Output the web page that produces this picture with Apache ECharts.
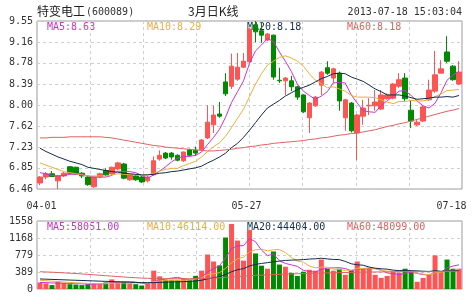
<!DOCTYPE html>
<html>
<head>
<meta charset="utf-8">
<script src="https://cdn.jsdelivr.net/npm/echarts@6/dist/echarts.min.js"></script>
<style>
html, body { margin: 0; padding: 0; background: #fff; }
#chart { width: 474px; height: 304px; }
</style>
</head>
<body>
<div id="chart"></div>
<script>
// 交易日
const dates = [
  '04-01','04-02','04-03','04-08','04-09','04-10','04-11','04-12','04-15','04-16',
  '04-17','04-18','04-19','04-22','04-23','04-24','04-25','04-26','05-02','05-03',
  '05-06','05-07','05-08','05-09','05-10','05-13','05-14','05-15','05-16','05-17',
  '05-20','05-21','05-22','05-23','05-24','05-27','05-28','05-29','05-30','05-31',
  '06-03','06-04','06-05','06-06','06-07','06-13','06-14','06-17','06-18','06-19',
  '06-20','06-21','06-24','06-25','06-26','06-27','06-28','07-01','07-02','07-03',
  '07-04','07-05','07-08','07-09','07-10','07-11','07-12','07-15','07-16','07-17',
  '07-18'
]
// [开, 收, 低, 高]
const candles = [
  [6.57,6.68,6.53,6.70],[6.68,6.74,6.64,6.77],[6.74,6.69,6.68,6.79],[6.61,6.70,6.46,6.72],
  [6.70,6.75,6.68,6.77],[6.87,6.75,6.74,6.88],[6.86,6.74,6.72,6.87],[6.75,6.70,6.66,6.77],
  [6.68,6.54,6.52,6.70],[6.50,6.68,6.48,6.69],[6.68,6.74,6.66,6.76],[6.80,6.72,6.70,6.84],
  [6.74,6.86,6.72,6.87],[6.83,6.94,6.81,6.96],[6.92,6.66,6.64,6.94],[6.63,6.72,6.61,6.74],
  [6.70,6.63,6.61,6.72],[6.68,6.59,6.57,6.70],[6.61,6.68,6.58,6.70],[6.72,6.98,6.70,7.06],
  [7.01,7.08,6.98,7.17],[7.12,7.03,7.01,7.14],[7.12,7.05,7.00,7.14],[7.08,6.99,6.97,7.10],
  [6.98,7.14,6.96,7.15],[7.18,7.08,7.06,7.20],[7.17,7.12,7.07,7.24],[7.18,7.36,7.16,7.38],
  [7.40,7.69,7.38,8.00],[7.64,7.82,7.49,7.99],[7.84,7.80,7.77,8.06],[8.43,8.21,8.17,8.59],
  [8.35,8.72,8.30,8.95],[8.48,8.70,8.45,8.96],[8.70,8.81,8.69,8.96],[8.80,9.40,8.78,9.42],
  [9.48,9.35,9.16,9.55],[9.37,9.29,9.15,9.53],[9.20,9.31,9.18,9.33],[9.29,8.52,8.47,9.30],
  [8.46,8.45,8.41,8.69],[8.45,8.50,8.19,8.52],[8.45,8.34,8.26,8.54],[8.34,8.15,8.10,8.36],
  [8.19,7.88,7.86,8.20],[7.77,8.04,7.49,8.06],[7.99,8.15,7.97,8.17],[8.37,8.61,8.19,8.63],
  [8.69,8.59,8.56,8.81],[8.50,8.67,8.41,8.69],[8.59,8.08,7.90,8.62],[7.77,8.10,7.53,8.12],
  [8.04,7.53,7.50,8.06],[7.49,7.82,6.99,7.84],[7.80,7.95,7.64,8.10],[7.99,8.00,7.82,8.13],
  [7.99,8.06,7.90,8.28],[7.93,8.19,7.91,8.28],[8.12,8.19,8.10,8.22],[8.13,8.39,8.11,8.41],
  [8.35,8.47,8.32,8.59],[8.50,8.12,8.08,8.59],[7.91,7.71,7.58,8.08],[7.64,7.69,7.62,7.73],
  [7.71,7.97,7.69,7.99],[8.10,8.28,8.08,8.47],[8.26,8.56,8.23,9.00],[8.59,8.67,8.59,8.83],
  [8.98,8.81,8.78,9.27],[8.72,8.47,8.45,8.74],[8.39,8.61,8.37,8.81]
]
const ma5 = [
  6.76,6.74,6.71,6.70,6.71,6.73,6.73,6.73,6.70,6.68,6.68,6.68,6.71,6.79,6.78,6.78,6.76,6.71,
  6.66,6.72,6.79,6.87,6.96,7.03,7.06,7.06,7.08,7.14,7.28,7.41,7.56,7.78,8.05,8.25,8.45,8.77,
  9.00,9.11,9.23,9.17,8.98,8.81,8.62,8.39,8.26,8.18,8.11,8.17,8.25,8.41,8.42,8.41,8.19,8.04,
  7.90,7.88,7.87,8.00,8.08,8.17,8.26,8.27,8.18,8.08,7.99,7.95,8.04,8.23,8.46,8.56,8.62
]
const ma10 = [
  6.94,6.90,6.86,6.82,6.78,6.76,6.74,6.72,6.70,6.70,6.70,6.70,6.72,6.74,6.73,6.73,6.72,6.71,
  6.72,6.75,6.79,6.82,6.84,6.84,6.89,6.93,6.97,7.05,7.15,7.24,7.31,7.43,7.59,7.76,7.93,8.16,
  8.39,8.58,8.74,8.81,8.88,8.91,8.87,8.81,8.72,8.58,8.46,8.40,8.32,8.34,8.30,8.26,8.18,8.15,
  8.15,8.15,8.14,8.10,8.06,8.03,8.07,8.07,8.09,8.08,8.08,8.11,8.16,8.21,8.27,8.28,8.29
]
const ma20 = [
  7.21,7.15,7.10,7.05,7.01,6.97,6.94,6.91,6.86,6.84,6.82,6.80,6.78,6.77,6.75,6.74,6.73,6.72,
  6.72,6.73,6.75,6.76,6.78,6.79,6.81,6.83,6.85,6.88,6.94,6.99,7.05,7.12,7.22,7.30,7.41,7.54,
  7.68,7.82,7.95,8.02,8.09,8.17,8.23,8.29,8.33,8.37,8.43,8.49,8.53,8.58,8.59,8.58,8.52,8.48,
  8.44,8.37,8.30,8.25,8.19,8.19,8.19,8.17,8.14,8.11,8.12,8.13,8.15,8.15,8.16,8.15,8.18
]
const ma60 = [
  7.40,7.40,7.41,7.41,7.41,7.42,7.42,7.42,7.42,7.42,7.42,7.41,7.40,7.38,7.36,7.34,7.32,7.30,
  7.28,7.26,7.25,7.23,7.22,7.21,7.20,7.19,7.18,7.17,7.16,7.16,7.17,7.18,7.19,7.21,7.22,7.24,
  7.25,7.27,7.28,7.30,7.31,7.32,7.33,7.34,7.35,7.37,7.38,7.40,7.41,7.43,7.45,7.46,7.48,7.49,
  7.51,7.53,7.55,7.58,7.61,7.63,7.66,7.68,7.71,7.74,7.77,7.80,7.83,7.86,7.89,7.91,7.94
]
// 成交量
const volumes = [
  150,130,90,160,140,110,100,90,110,130,120,150,220,170,160,130,110,80,120,420,
  290,210,210,210,240,200,300,420,790,630,540,1180,1490,1110,650,1350,815,535,465,860,
  560,510,370,300,395,440,420,675,465,420,465,325,420,630,465,490,325,255,300,395,
  370,465,395,165,255,325,770,395,675,465,465
]
const volMa5 = [
  150,145,138,135,134,126,120,120,110,108,110,120,146,158,164,166,158,130,120,172,
  204,226,250,268,232,214,232,274,390,468,536,712,926,990,994,1156,1083,892,763,805,
  647,586,553,520,427,403,385,446,479,484,489,470,419,452,461,466,466,433,367,353,
  329,357,385,358,330,321,382,382,484,526,554
]
const volMa10 = [
  200,190,180,170,160,150,142,135,128,121,118,120,133,134,136,138,139,138,139,168,
  185,192,190,194,202,209,229,262,329,350,375,472,600,690,731,846,898,909,877,900,
  902,835,723,642,616,525,486,500,500,456,446,428,433,466,473,478,468,426,410,407,
  398,412,409,363,342,325,370,384,421,428,438
]
const volMa20 = [
  230,225,220,215,210,205,200,195,190,185,180,175,170,165,160,155,150,147,145,145,
  152,156,162,164,169,174,184,200,234,259,280,332,395,442,467,528,564,586,603,625,
  639,654,662,666,674,686,692,705,689,678,674,632,578,554,545,502,477,463,455,432,
  422,420,421,415,408,402,419,405,416,418,418
]
const volMa60 = [
  395,390,385,378,370,362,355,345,335,325,315,305,295,285,275,265,258,250,245,240,
  238,236,235,235,235,236,238,240,245,252,258,266,276,286,294,304,312,318,324,330,
  336,341,345,349,353,357,361,365,369,372,375,378,380,383,386,388,390,391,392,393,
  394,396,397,397,397,398,400,401,403,404,405
]
const priceTicks = [6.46, 6.85, 7.23, 7.62, 8.00, 8.39, 8.78, 9.16, 9.55]
const labelIndex = [0, 35, 70]
const maTexts = ['MA5:8.63', 'MA10:8.29', 'MA20:8.18', 'MA60:8.18']
const volMaTexts = ['MA5:58051.00', 'MA10:46114.00', 'MA20:44404.00', 'MA60:48099.00']

const upColor = '#ff5454'
const downColor = '#008a00'
const maColors = ['#cc33cc', '#e8b03c', '#132b4b', '#e06060']
const mono = '"DejaVu Sans Mono", "Liberation Mono", monospace'
const cjk = '"Noto Sans CJK SC", sans-serif'
const gridLine = { show: true, lineStyle: { color: '#cfcfcf', type: [3, 3], width: 1 } }

let chart = echarts.init(document.getElementById('chart'))

function maLine (name, data, color, xi, yi) {
  return {
    name: name, type: 'line', data: data, xAxisIndex: xi, yAxisIndex: yi,
    showSymbol: false, symbol: 'none', silent: true,
    lineStyle: { color: color, width: 1 }
  }
}

let texts = []
texts.push({ type: 'text', x: 37, y: 11, style: { text: '特变电工', font: '12px ' + cjk, fill: '#222', verticalAlign: 'middle' } })
texts.push({ type: 'text', x: 86, y: 12, style: { text: '(600089)', font: '10px ' + mono, fill: '#333', verticalAlign: 'middle' } })
texts.push({ type: 'text', x: 188, y: 11, style: { text: '3月日K线', font: '12px ' + cjk, fill: '#222', verticalAlign: 'middle' } })
texts.push({ type: 'text', x: 462, y: 12, style: { text: '2013-07-18 15:03:04', font: '10px ' + mono, fill: '#333', align: 'right', verticalAlign: 'middle' } })
maTexts.forEach((t, i) => {
  texts.push({ type: 'text', x: 47 + i * 100, y: 27, style: { text: t, font: '10px ' + mono, fill: maColors[i], verticalAlign: 'middle' } })
})
volMaTexts.forEach((t, i) => {
  texts.push({ type: 'text', x: 47 + i * 100, y: 227, style: { text: t, font: '10px ' + mono, fill: maColors[i], verticalAlign: 'middle' } })
})

const option = {
  animation: false,
  grid: [
    { left: 37, top: 21, width: 425, height: 168, show: true, borderColor: '#9a9a9a', borderWidth: 1 },
    { left: 37, top: 221, width: 425, height: 68, show: true, borderColor: '#9a9a9a', borderWidth: 1 }
  ],
  xAxis: [
    {
      type: 'category', gridIndex: 0, data: dates, boundaryGap: true,
      axisLine: { show: false }, axisTick: { show: false }, splitLine: { show: false },
      axisLabel: {
        interval: (i) => labelIndex.includes(i),
        margin: 12, color: '#333', fontSize: 10, fontFamily: mono,
        formatter: (v, i) => i === 35 ? '{b|' + v + '}' : (i === 70 ? '{c|' + v + '}' : '{a|' + v + '}'),
        rich: {
          a: { fontSize: 10, fontFamily: mono, color: '#333', padding: [0, 0, 0, 3] },
          b: { fontSize: 10, fontFamily: mono, color: '#333', padding: [0, 6, 0, 0] },
          c: { fontSize: 10, fontFamily: mono, color: '#333', padding: [0, 15, 0, 0] }
        }
      }
    },
    {
      type: 'category', gridIndex: 1, data: dates, boundaryGap: true,
      axisLine: { show: false }, axisTick: { show: false }, axisLabel: { show: false }, splitLine: { show: false }
    },
    {
      type: 'value', gridIndex: 0, min: 0, max: 8, interval: 1,
      axisLine: { show: false }, axisTick: { show: false }, axisLabel: { show: false }, splitLine: gridLine
    },
    {
      type: 'value', gridIndex: 1, min: 0, max: 8, interval: 1,
      axisLine: { show: false }, axisTick: { show: false }, axisLabel: { show: false }, splitLine: gridLine
    }
  ],
  yAxis: [
    {
      type: 'value', gridIndex: 0, min: 6.46, max: 9.55, scale: true,
      axisLine: { show: false },
      axisTick: { show: false, customValues: priceTicks },
      axisLabel: { customValues: priceTicks, margin: 4, color: '#333', fontSize: 10, fontFamily: mono, formatter: (v) => v.toFixed(2) },
      splitLine: gridLine
    },
    {
      type: 'value', gridIndex: 1, min: 0, max: 1558, interval: 389.5,
      axisLine: { show: false }, axisTick: { show: false },
      axisLabel: { margin: 4, color: '#333', fontSize: 10, fontFamily: mono, formatter: (v) => String(Math.floor(v)) },
      splitLine: gridLine
    }
  ],
  graphic: texts,
  series: [
    {
      name: 'K', type: 'candlestick', data: candles, xAxisIndex: 0, yAxisIndex: 0,
      barWidth: 5, silent: true,
      itemStyle: { color: upColor, color0: downColor, borderColor: upColor, borderColor0: downColor, borderWidth: 1 }
    },
    maLine('MA5', ma5, maColors[0], 0, 0),
    maLine('MA10', ma10, maColors[1], 0, 0),
    maLine('MA20', ma20, maColors[2], 0, 0),
    maLine('MA60', ma60, maColors[3], 0, 0),
    {
      name: 'VOL', type: 'bar', xAxisIndex: 1, yAxisIndex: 1, barWidth: 5, silent: true,
      data: volumes.map((v, i) => ({
        value: v,
        itemStyle: { color: candles[i][1] >= candles[i][0] ? upColor : downColor }
      }))
    },
    maLine('VMA5', volMa5, maColors[0], 1, 1),
    maLine('VMA10', volMa10, maColors[1], 1, 1),
    maLine('VMA20', volMa20, maColors[2], 1, 1),
    maLine('VMA60', volMa60, maColors[3], 1, 1)
  ]
}
chart.setOption(option)
</script>
</body>
</html>
